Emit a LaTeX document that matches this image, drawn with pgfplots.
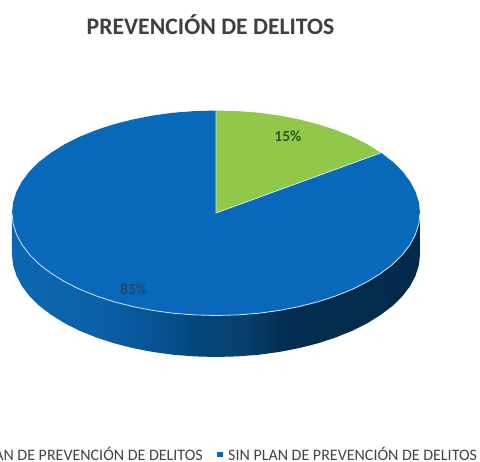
\documentclass[border=0pt]{standalone}
\usepackage{fontspec}
\setmainfont{Carlito}
\usepackage{pgfplots}
\pgfplotsset{compat=1.18}

\definecolor{piegreen}{HTML}{92C84A}
\definecolor{pieblue}{HTML}{0869BA}
\definecolor{rim}{HTML}{CFE6F4}
\definecolor{titlegray}{HTML}{404040}
\definecolor{legendgray}{HTML}{3F444A}
\definecolor{labelgreen}{HTML}{35551A}
\definecolor{labelblue}{HTML}{23476E}
\definecolor{sidea}{HTML}{0C67B0}
\definecolor{sideb}{HTML}{0A60A6}
\definecolor{sidec}{HTML}{06508E}
\definecolor{sided}{HTML}{04457A}
\definecolor{sidee}{HTML}{06406F}
\definecolor{sidef}{HTML}{032C50}
\definecolor{sideg}{HTML}{032A4C}

% side of the pie: lighter at the left, nearly navy from the middle on
\pgfdeclarehorizontalshading{pieside}{100bp}{
  color(0bp)=(sidea);
  color(25bp)=(sidea);
  color(36bp)=(sideb);
  color(44bp)=(sidec);
  color(48bp)=(sided);
  color(53bp)=(sidee);
  color(59bp)=(sidef);
  color(75bp)=(sideg);
  color(100bp)=(sideg)
}

\begin{document}
\begin{tikzpicture}
\path[use as bounding box, clip] (0,0) rectangle (480pt,462pt);
\begin{axis}[
    at={(0,0)}, anchor=south west,
    scale only axis,
    width=480pt, height=462pt,
    xmin=0, xmax=480,
    ymin=0, ymax=462,
    y dir=reverse,
    axis lines=none,
    clip=false,
]
% side wall, front half of the rim and the same edge 41.5 lower
\addplot[draw=none, shade, shading=pieside] coordinates {
    (420,213)(418.9,223.7)(415.5,234.3)(410,244.7)(402.4,254.7)(392.7,264.3)
    (381,273.2)(367.6,281.6)(352.5,289.2)(335.9,295.9)(318,301.8)(299,306.6)
    (279,310.5)(258.4,313.3)(237.3,314.9)(216,315.5)(194.7,314.9)(173.6,313.3)
    (153,310.5)(133,306.6)(114,301.8)(96.1,295.9)(79.5,289.2)(64.4,281.6)
    (51,273.2)(39.3,264.3)(29.6,254.7)(22,244.7)(16.5,234.3)(13.1,223.7)(12,213)
    (12,254.5)(13.1,265.2)(16.5,275.8)(22,286.2)(29.6,296.2)(39.3,305.8)
    (51,314.7)(64.4,323.1)(79.5,330.7)(96.1,337.4)(114,343.3)(133,348.1)
    (153,352)(173.6,354.8)(194.7,356.4)(216,357)(237.3,356.4)(258.4,354.8)
    (279,352)(299,348.1)(318,343.3)(335.9,337.4)(352.5,330.7)(367.6,323.1)
    (381,314.7)(392.7,305.8)(402.4,296.2)(410,286.2)(415.5,275.8)(418.9,265.2)(420,254.5)
} -- cycle;
% 85 % sector
\addplot[fill=pieblue, draw=none] coordinates {
    (216,213)(381,152.8)(392.7,161.7)(402.4,171.3)(410,181.3)(415.5,191.7)(418.9,202.3)
    (420,213)(418.9,223.7)(415.5,234.3)(410,244.7)(402.4,254.7)(392.7,264.3)
    (381,273.2)(367.6,281.6)(352.5,289.2)(335.9,295.9)(318,301.8)(299,306.6)
    (279,310.5)(258.4,313.3)(237.3,314.9)(216,315.5)(194.7,314.9)(173.6,313.3)
    (153,310.5)(133,306.6)(114,301.8)(96.1,295.9)(79.5,289.2)(64.4,281.6)
    (51,273.2)(39.3,264.3)(29.6,254.7)(22,244.7)(16.5,234.3)(13.1,223.7)(12,213)
    (13.1,202.3)(16.5,191.7)(22,181.3)(29.6,171.3)(39.3,161.7)(51,152.8)
    (64.4,144.4)(79.5,136.8)(96.1,130.1)(114,124.2)(133,119.4)(153,115.5)
    (173.6,112.7)(194.7,111.1)(216,110.5)
} -- cycle;
% 15 % sector
\addplot[fill=piegreen, draw=none] coordinates {
    (216,213)(216,110.5)(237.3,111.1)(258.4,112.7)(279,115.5)(299,119.4)(318,124.2)
    (335.9,130.1)(352.5,136.8)(367.6,144.4)(381,152.8)
} -- cycle;
% light rim and sector borders
\addplot[rim, line width=0.8pt] coordinates {
    (420,213)(418.9,223.7)(415.5,234.3)(410,244.7)(402.4,254.7)(392.7,264.3)
    (381,273.2)(367.6,281.6)(352.5,289.2)(335.9,295.9)(318,301.8)(299,306.6)
    (279,310.5)(258.4,313.3)(237.3,314.9)(216,315.5)(194.7,314.9)(173.6,313.3)
    (153,310.5)(133,306.6)(114,301.8)(96.1,295.9)(79.5,289.2)(64.4,281.6)
    (51,273.2)(39.3,264.3)(29.6,254.7)(22,244.7)(16.5,234.3)(13.1,223.7)(12,213)
};
\addplot[rim, line width=0.8pt] coordinates {(216,110.5)(216,213)(381,152.8)};
% legend key of the second series
\addplot[only marks, mark=square*, mark size=2.2pt, mark options={fill=pieblue, draw=pieblue}]
    coordinates {(219.5,454)};

\node[font=\fontsize{23.7}{28}\selectfont\bfseries, text=titlegray] at (axis cs:210.5,25) {PREVENCIÓN DE DELITOS};
\node[font=\fontsize{15.5}{18}\selectfont\bfseries, text=labelgreen] at (axis cs:288,136) {15\%};
\node[font=\fontsize{15.5}{18}\selectfont\bfseries, text=labelblue] at (axis cs:134,289) {85\%};
\node[font=\fontsize{16}{19}\selectfont, text=legendgray, anchor=east, inner sep=0pt] at (axis cs:203,454) {CON PLAN DE PREVENCIÓN DE DELITOS};
\node[font=\fontsize{16}{19}\selectfont, text=legendgray, anchor=west, inner sep=0pt] at (axis cs:228,454) {SIN PLAN DE PREVENCIÓN DE DELITOS};
\end{axis}
\end{tikzpicture}
\end{document}
